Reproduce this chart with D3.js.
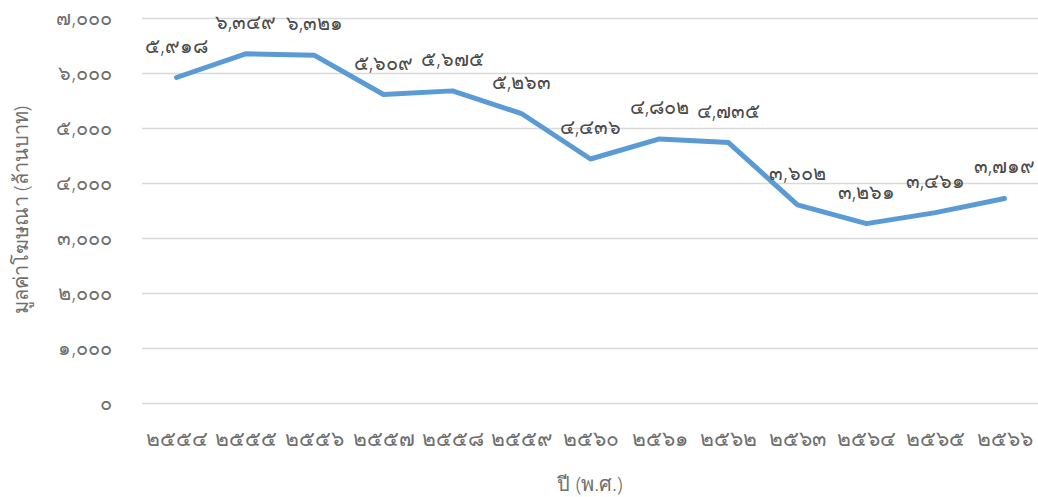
<!DOCTYPE html>
<html>
<head>
<meta charset="utf-8">
<script src="https://cdn.jsdelivr.net/npm/d3@7"></script>
<style>
  body { margin: 0; background: #fff; }
  text { font-family: "Noto Sans", "DejaVu Sans", sans-serif; fill: #6e6e6e; font-weight: 300; }
</style>
</head>
<body>
<div id="chart"></div>
<script>
// years (B.E.) and values (million baht)
const years = [2554, 2555, 2556, 2557, 2558, 2559, 2560, 2561, 2562, 2563, 2564, 2565, 2566];
const values = [5918, 6349, 6321, 5609, 5675, 5263, 4436, 4802, 4735, 3602, 3261, 3461, 3719];
const yTicks = [0, 1000, 2000, 3000, 4000, 5000, 6000, 7000];

const W = 1038, H = 497;
const margin = { top: 18, right: 0, bottom: 94, left: 142 };

const thaiDigits = '๐๑๒๓๔๕๖๗๘๙';
const toThai = s => String(s).replace(/[0-9]/g, d => thaiDigits[+d]);
const fmtNum = v => toThai(d3.format(',')(v));

const svg = d3.select('#chart')
  .append('svg')
  .attr('width', W)
  .attr('height', H);

const x = d3.scaleBand()
  .domain(years)
  .range([margin.left, W - margin.right + 1]);

const y = d3.scaleLinear()
  .domain([0, 7000])
  .range([H - margin.bottom, margin.top]);

// gridlines
svg.append('g')
  .selectAll('line')
  .data(yTicks)
  .join('line')
  .attr('x1', margin.left)
  .attr('x2', W)
  .attr('y1', d => Math.round(y(d)) + 0.5)
  .attr('y2', d => Math.round(y(d)) + 0.5)
  .attr('stroke', '#d9d9d9')
  .attr('stroke-width', 1.5);

// y tick labels
svg.append('g')
  .selectAll('text')
  .data(yTicks)
  .join('text')
  .attr('x', 112)
  .attr('y', d => y(d))
  .attr('dy', '0.35em')
  .attr('text-anchor', 'end')
  .style('font-size', '20px')
  .text(d => fmtNum(d));

// x tick labels
svg.append('g')
  .selectAll('text')
  .data(years)
  .join('text')
  .attr('x', d => x(d) + x.bandwidth() / 2)
  .attr('y', 446)
  .attr('text-anchor', 'middle')
  .style('font-size', '21px')
  .text(d => toThai(d));

// line
const line = d3.line()
  .x((d, i) => x(years[i]) + x.bandwidth() / 2)
  .y(d => y(d));

svg.append('path')
  .datum(values)
  .attr('d', line)
  .attr('fill', 'none')
  .attr('stroke', '#5b9bd5')
  .attr('stroke-width', 5)
  .attr('stroke-linejoin', 'round')
  .attr('stroke-linecap', 'round');

// data labels
svg.append('g')
  .selectAll('text')
  .data(values)
  .join('text')
  .attr('x', (d, i) => x(years[i]) + x.bandwidth() / 2)
  .attr('y', d => y(d) - 25)
  .attr('text-anchor', 'middle')
  .style('font-size', '20px')
  .style('fill', '#4a4a4a')
  .text(d => fmtNum(d));

// axis titles
svg.append('text')
  .attr('x', 590)
  .attr('y', 491)
  .attr('text-anchor', 'middle')
  .style('font-size', '20px')
  .text('ปี (พ.ศ.)');

svg.append('text')
  .attr('transform', 'translate(28,210) rotate(-90)')
  .attr('text-anchor', 'middle')
  .style('font-size', '20px')
  .text('มูลค่าโฆษณา (ล้านบาท)');
</script>
</body>
</html>
